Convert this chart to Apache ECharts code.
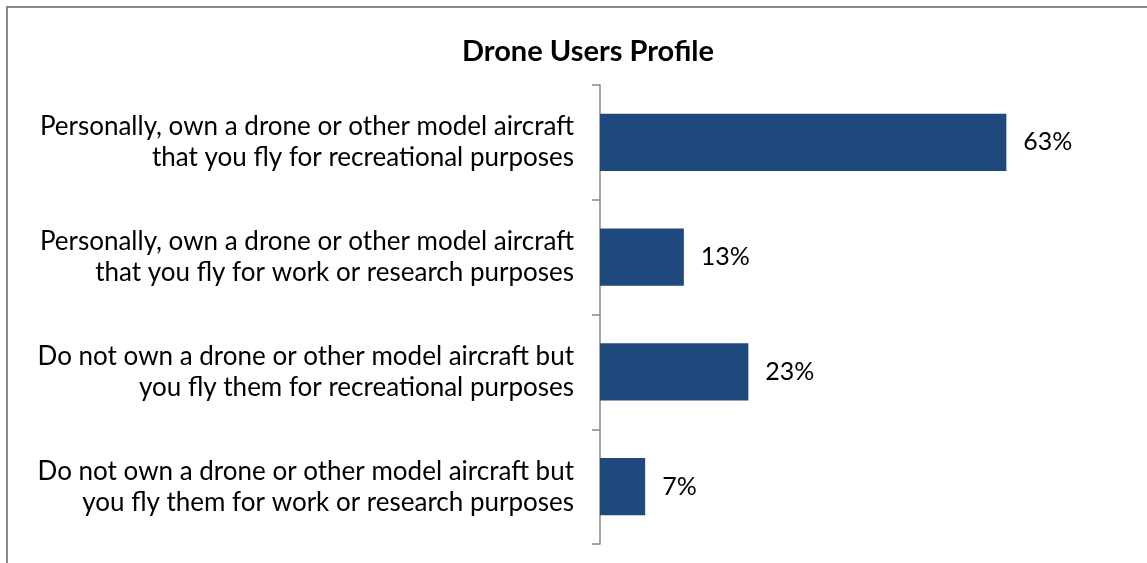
<!DOCTYPE html>
<html>
<head>
<meta charset="utf-8">
<script src="https://cdn.jsdelivr.net/npm/echarts@6/dist/echarts.min.js"></script>
<style>
  html, body { margin: 0; padding: 0; background: #fff; }
  #chart { width: 1147px; height: 563px; }
</style>
</head>
<body>
<div id="chart"></div>
<script>
// Survey answers, top to bottom
const categories = [
  'Personally, own a drone or other model aircraft\nthat you fly for recreational purposes',
  'Personally, own a drone or other model aircraft\nthat you fly for work or research purposes',
  'Do not own a drone or other model aircraft but\nyou fly them for recreational purposes',
  'Do not own a drone or other model aircraft but\nyou fly them for work or research purposes'
];
// Share of respondents, percent
const shares = [63, 13, 23, 7];

const FONT = 'Lato, "Open Sans", sans-serif';

const chart = echarts.init(document.getElementById('chart'));
chart.setOption({
  animation: false,
  textStyle: { fontFamily: FONT },
  title: {
    text: 'Drone Users Profile',
    left: 583,
    textAlign: 'center',
    top: 32,
    textStyle: { fontFamily: FONT, fontSize: 29, fontWeight: 'bold', color: '#000' }
  },
  graphic: [{
    type: 'polyline',
    shape: { points: [[7, 563], [7, 7], [1147, 7]] },
    style: { stroke: '#888', lineWidth: 2, fill: null }
  }],
  grid: { left: 600, right: 31, top: 85, bottom: 19, containLabel: false },
  xAxis: {
    type: 'value', min: 0, max: 80, show: false
  },
  yAxis: {
    type: 'category',
    inverse: true,
    data: categories,
    axisLine: { lineStyle: { color: '#888', width: 1.5 } },
    axisTick: { show: true, length: 8, lineStyle: { color: '#888', width: 1.5 } },
    axisLabel: {
      margin: 26,
      align: 'right',
      fontFamily: FONT,
      fontSize: 26,
      lineHeight: 31,
      color: '#000'
    }
  },
  series: [{
    type: 'bar',
    data: shares,
    barWidth: '50%',
    itemStyle: { color: '#1F497D' },
    label: {
      show: true,
      position: 'right',
      distance: 17,
      formatter: '{c}%',
      fontFamily: FONT,
      fontSize: 25,
      color: '#000'
    }
  }]
});
</script>
</body>
</html>
